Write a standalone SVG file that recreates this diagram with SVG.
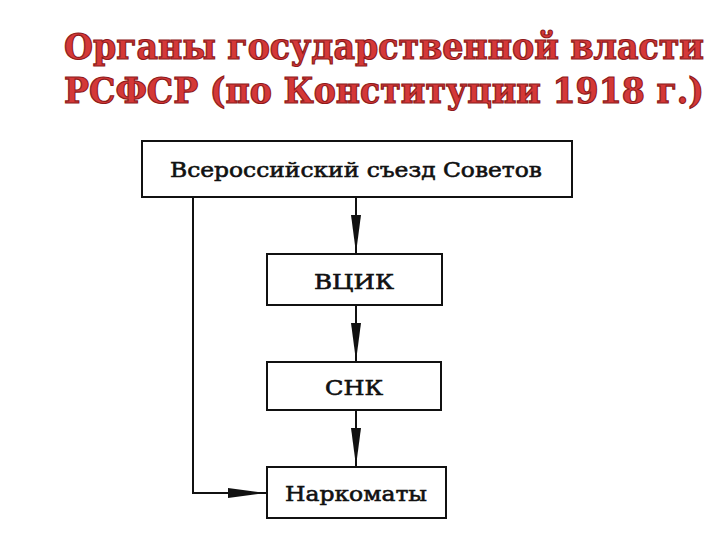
<svg xmlns="http://www.w3.org/2000/svg" width="720" height="540" viewBox="0 0 720 540">
<style>
.title{font-family:"DejaVu Serif Condensed","DejaVu Serif","Liberation Serif",serif;font-weight:bold;font-size:35px;fill:#d43838;stroke:#8e1a1a;stroke-width:1.1px}
.box{fill:#fff;stroke:#111;stroke-width:2}
.lbl{font-family:"DejaVu Serif","Liberation Serif",serif;font-size:21px;fill:#111;text-anchor:middle;stroke:#111;stroke-width:0.6px}
.conn{fill:none;stroke:#111;stroke-width:2}
</style>
<defs>
<marker id="ah" viewBox="0 0 38 12" refX="38" refY="6" markerWidth="38" markerHeight="12" markerUnits="userSpaceOnUse" orient="auto">
<path d="M0,1 L38,6 L0,11 Z" fill="#111"/>
</marker>
</defs>
<rect width="720" height="540" fill="#fff"/>
<g id="title">
<text class="title" x="64" y="59" textLength="640" lengthAdjust="spacingAndGlyphs">Органы государственной власти</text>
<text class="title" x="64" y="103" textLength="640" lengthAdjust="spacingAndGlyphs">РСФСР (по Конституции 1918 г.)</text>
</g>
<g id="connectors">
<path class="conn" d="M356,198 V253" marker-end="url(#ah)"/>
<path class="conn" d="M356,305 V361" marker-end="url(#ah)"/>
<path class="conn" d="M356,410 V466" marker-end="url(#ah)"/>
<path class="conn" d="M193,198 V493 H266" marker-end="url(#ah)"/>
</g>
<g id="congress">
<rect class="box" x="142" y="141" width="430" height="56"/>
<text class="lbl" x="356" y="177" textLength="372" lengthAdjust="spacingAndGlyphs">Всероссийский съезд Советов</text>
</g>
<g id="vtsik">
<rect class="box" x="267" y="254" width="175" height="51"/>
<text class="lbl" x="354" y="289" textLength="80" lengthAdjust="spacingAndGlyphs">ВЦИК</text>
</g>
<g id="snk">
<rect class="box" x="267" y="362" width="174" height="48"/>
<text class="lbl" x="354" y="395" textLength="58" lengthAdjust="spacingAndGlyphs">СНК</text>
</g>
<g id="narkomaty">
<rect class="box" x="267" y="467" width="179" height="51"/>
<text class="lbl" x="356" y="501" textLength="142" lengthAdjust="spacingAndGlyphs">Наркоматы</text>
</g>
</svg>
